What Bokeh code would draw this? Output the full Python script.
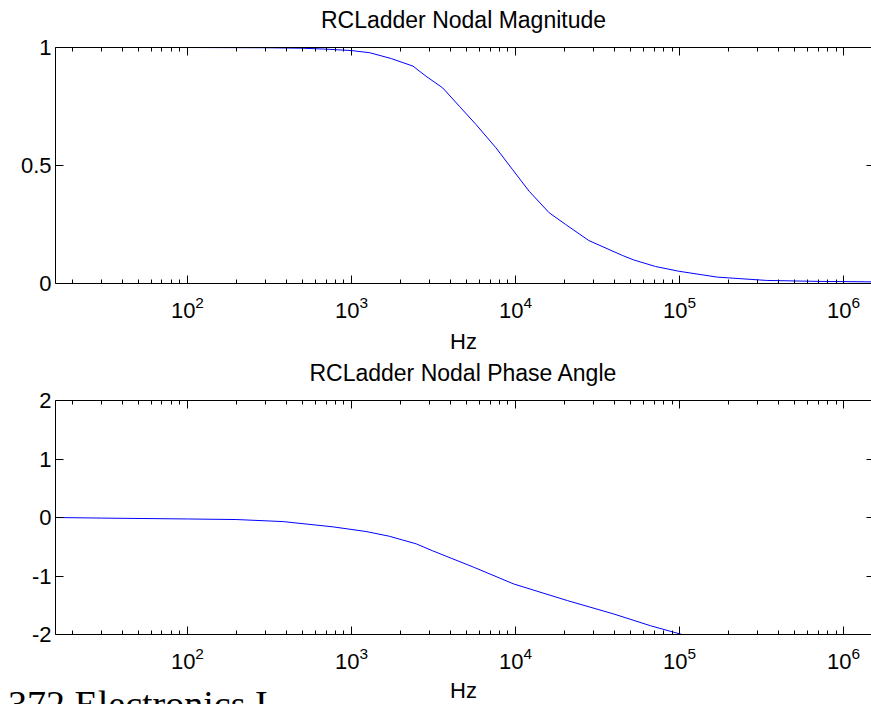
from bokeh.plotting import figure
from bokeh.models import (LogAxis, LinearAxis, FixedTicker, CustomJSTickFormatter,
                          Range1d, Div)
from bokeh.layouts import column, row
from bokeh.embed import file_html
from bokeh.resources import INLINE

# ---------------- data ----------------
freq_range = [15.7, 1.48e6]

mag_freq = [15.7, 100, 300, 500, 700, 1000, 1291, 1750, 2373, 2852, 3597, 4550,
            5741, 7600, 9590, 12110, 16030, 20230, 28000, 44800, 52500, 71400,
            98900, 170000, 340000, 700000, 1480000]
mag_vals = [1.0, 1.0, 0.999, 0.997, 0.993, 0.987, 0.978, 0.953, 0.921, 0.878, 0.829, 0.751,
            0.674, 0.575, 0.483, 0.391, 0.30, 0.25, 0.182, 0.119, 0.10, 0.072,
            0.052, 0.027, 0.013, 0.009, 0.007]

phase_freq = [15.7, 30, 100, 200, 384, 773, 1230, 1700, 2480, 3130, 5610, 9770,
              20700, 39800, 66500, 103500, 200000, 500000, 1480000]
phase_vals = [0.0, -0.01, -0.025, -0.035, -0.07, -0.16, -0.24, -0.32, -0.45, -0.57,
              -0.854, -1.137, -1.42, -1.65, -1.85, -2.0, -2.2, -2.5, -2.8]

mag_yrange = [0, 1]
mag_yticks = [0, 0.5, 1]
mag_ytick_labels = ["0", "0.5", "1"]
phase_yrange = [-2, 2]
phase_yticks = [-2, -1, 0, 1, 2]
phase_ytick_labels = ["-2", "-1", "0", "1", "2"]
x_major = [1e2, 1e3, 1e4, 1e5, 1e6]
x_minor_mult = [2, 3, 4, 5, 6, 7, 8, 9]
x_decades = [1e1, 1e2, 1e3, 1e4, 1e5, 1e6]

title_mag = "RCLadder Nodal Magnitude"
title_phase = "RCLadder Nodal Phase Angle"
x_label = "Hz"
footer = "372 Electronics I"

FONT = "Liberation Sans"
LINE_COLOR = "#0000ff"

x_minor = [m * d for d in x_decades for m in x_minor_mult
           if freq_range[0] <= m * d <= freq_range[1]]
blank = CustomJSTickFormatter(code="return ''")


def make_panel(title, xs, ys, yrange, yticks, ylabels, height, top, bottom,
               title_standoff, with_xlabel):
    p = figure(width=871, height=height, x_axis_type="log",
               x_range=Range1d(*freq_range), y_range=Range1d(*yrange),
               output_backend="svg", toolbar_location=None,
               min_border_left=55, min_border_right=0,
               min_border_top=top, min_border_bottom=bottom,
               outline_line_color=None, background_fill_color="white",
               border_fill_color="white")
    p.grid.visible = False
    p.title.visible = False

    p.line(xs, ys, line_color=LINE_COLOR, line_width=1)

    xt = FixedTicker(ticks=x_major, minor_ticks=x_minor)
    yt = FixedTicker(ticks=yticks)

    xa = p.xaxis[0]
    xa.ticker = xt
    ya = p.yaxis[0]
    ya.ticker = yt
    ya.major_label_overrides = {t: s for t, s in zip(yticks, ylabels)}

    for ax in (xa, ya):
        ax.axis_line_color = "black"
        ax.major_tick_in = 8
        ax.major_tick_out = 0
        ax.minor_tick_in = 4
        ax.minor_tick_out = 0
        ax.major_tick_line_color = "black"
        ax.minor_tick_line_color = "black"
        ax.major_label_text_font = FONT
        ax.major_label_text_font_size = "22px"
        ax.major_label_text_color = "black"
        ax.axis_label_text_font = FONT
        ax.axis_label_text_font_size = "22px"
        ax.axis_label_text_font_style = "normal"
        ax.axis_label_text_color = "black"
    ya.major_label_standoff = 4
    ya.minor_tick_line_color = None
    xa.major_label_standoff = 12
    if with_xlabel:
        xa.axis_label = x_label
        xa.axis_label_standoff = 8

    top_ax = LogAxis(ticker=xt, formatter=blank, major_tick_in=8, major_tick_out=0,
                     minor_tick_in=4, minor_tick_out=0, major_label_standoff=0,
                     major_label_text_font_size="0px",
                     axis_line_color="black", axis_label=title,
                     axis_label_standoff=title_standoff,
                     axis_label_text_font=FONT, axis_label_text_font_size="23px",
                     axis_label_text_font_style="normal", axis_label_text_color="black")
    p.add_layout(top_ax, "above")
    right_ax = LinearAxis(ticker=yt, formatter=blank, major_tick_in=5, major_tick_out=0,
                          minor_tick_line_color=None, major_label_standoff=0,
                          major_label_text_font_size="0px", axis_line_color=None)
    p.add_layout(right_ax, "right")
    return p


p1 = make_panel(title_mag, mag_freq, mag_vals, mag_yrange, mag_yticks, mag_ytick_labels,
                height=356, top=47, bottom=73, title_standoff=15, with_xlabel=True)
p2 = make_panel(title_phase, phase_freq, phase_vals, phase_yrange, phase_yticks,
                phase_ytick_labels, height=324, top=43, bottom=46, title_standoff=15,
                with_xlabel=False)

footer_div = Div(
    text=('<div style="position:relative; left:8px; top:5px; white-space:nowrap; '
          'font-family:\'Liberation Serif\'; font-size:38px; line-height:38px; '
          'color:black;">' + footer + '</div>'),
    width=300, height=24, margin=0)
hz_div = Div(
    text=('<div style="position:relative; left:150px; top:0px; white-space:nowrap; '
          'font-family:\'Liberation Sans\'; font-size:22px; line-height:22px; '
          'color:black;">' + x_label + '</div>'),
    width=571, height=24, margin=0)

layout = column(p1, p2, row(footer_div, hz_div, spacing=0), spacing=0)
open("out.html", "w").write(file_html(layout, INLINE))
